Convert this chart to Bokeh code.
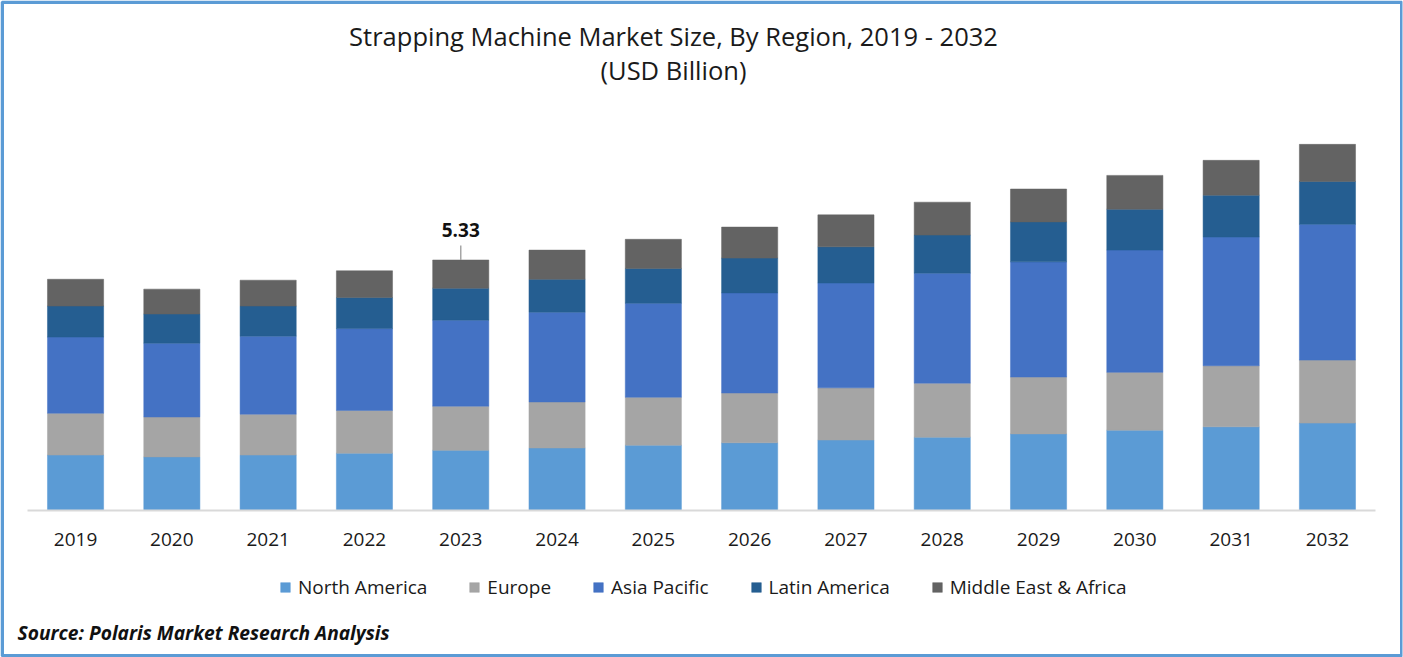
from bokeh.embed import file_html
from bokeh.resources import INLINE
from bokeh.models import ColumnDataSource, FactorRange, Range1d, Legend, LegendItem, Label, BoxAnnotation
from bokeh.plotting import figure

years = ["2019","2020","2021","2022","2023","2024","2025","2026","2027","2028","2029","2030","2031","2032"]
north_america = [1.18,1.14,1.18,1.22,1.28,1.33,1.39,1.44,1.50,1.56,1.63,1.71,1.78,1.86]
europe = [0.89,0.85,0.87,0.91,0.94,0.98,1.02,1.06,1.11,1.15,1.21,1.23,1.30,1.34]
asia_pacific = [1.62,1.57,1.66,1.74,1.83,1.91,2.00,2.13,2.23,2.34,2.45,2.60,2.74,2.89]
latin_america = [0.66,0.62,0.64,0.66,0.68,0.70,0.74,0.74,0.77,0.81,0.85,0.87,0.89,0.91]
middle_east = [0.57,0.53,0.55,0.57,0.60,0.62,0.62,0.66,0.68,0.70,0.70,0.72,0.74,0.79]
series_names = ["North America","Europe","Asia Pacific","Latin America","Middle East & Africa"]
colors = ["#5B9BD5","#A5A5A5","#4472C4","#255E91","#636363"]
label_year = "2023"
label_value = 5.33

FONT = "Open Sans"
W, H = 1403, 657
BASE_Y = 510
PX_PER_UNIT = 47.0
STEP = 96.3
source = ColumnDataSource(dict(year=years, **{
    series_names[0]: north_america, series_names[1]: europe, series_names[2]: asia_pacific,
    series_names[3]: latin_america, series_names[4]: middle_east}))

p = figure(width=W, height=H, output_backend="svg", toolbar_location=None,
           x_range=FactorRange(factors=years, factor_padding=0, range_padding=((W - 1)/STEP - 14)/14),
           y_range=Range1d(-(H-BASE_Y)/PX_PER_UNIT, BASE_Y/PX_PER_UNIT),
           min_border_left=0, min_border_right=1, min_border_top=0, min_border_bottom=0,
           background_fill_color="white", border_fill_color="white", outline_line_color=None)
p.styles = {"position": "absolute", "left": "0px", "top": "0px"}
p.yaxis.visible = False
p.grid.visible = False
ax = p.xaxis[0]
ax.fixed_location = 0
ax.bounds = (0, 14)
ax.axis_line_color = "#D9D9D9"
ax.axis_line_width = 2
ax.major_tick_line_color = None
ax.minor_tick_line_color = None
ax.major_label_text_font = FONT
ax.major_label_text_font_size = "19px"
ax.major_label_text_color = "#1a1a1a"
ax.major_label_standoff = 16

rs = p.vbar_stack(series_names, x="year", width=0.583, source=source, color=colors, line_width=0.5)

legend = Legend(items=[LegendItem(label=n, renderers=[r]) for n, r in zip(series_names, rs)],
                orientation="horizontal", location=(279, 57), padding=0, margin=0, spacing=41,
                glyph_width=12, glyph_height=12, label_standoff=7, border_line_color=None,
                background_fill_alpha=0, label_text_font=FONT, label_text_font_size="19px",
                label_text_color="#1a1a1a")
p.add_layout(legend, "center")

total = sum(s[years.index(label_year)] for s in (north_america, europe, asia_pacific, latin_america, middle_east))
p.segment(x0=[label_year], y0=[total], x1=[label_year], y1=[total + 0.31], line_color="#A6A6A6", line_width=1.5)
p.text(x=[label_year], y=[total], text=[f"{label_value:.2f}"], text_font=[FONT], text_font_size=["19px"],
       text_font_style=["bold"], text_color=["#111111"], text_align=["center"], text_baseline=["middle"], y_offset=[-30])

for text, y in (("Strapping Machine Market Size, By Region, 2019 - 2032", 35), ("(USD Billion)", 69)):
    p.add_layout(Label(x=673, y=H - y, x_units="screen", y_units="screen", text=text, text_font=FONT,
                       text_font_size="25.5px", text_color="#1a1a1a", text_align="center", text_baseline="middle"))
p.add_layout(Label(x=17, y=H - 632, x_units="screen", y_units="screen",
                   text="Source: Polaris Market Research Analysis", text_font=FONT, text_font_size="19.2px",
                   text_font_style="bold italic", text_color="#111111", text_align="left", text_baseline="middle"))

p.add_layout(BoxAnnotation(left=1.75, right=W - 1.75, bottom=1.75, top=H - 1.75,
                           left_units="screen", right_units="screen", top_units="screen", bottom_units="screen",
                           fill_color=None, line_color="#5B9BD5", line_alpha=1.0, line_width=3.5, level="overlay"))

open("out.html", "w").write(file_html(p, INLINE))
